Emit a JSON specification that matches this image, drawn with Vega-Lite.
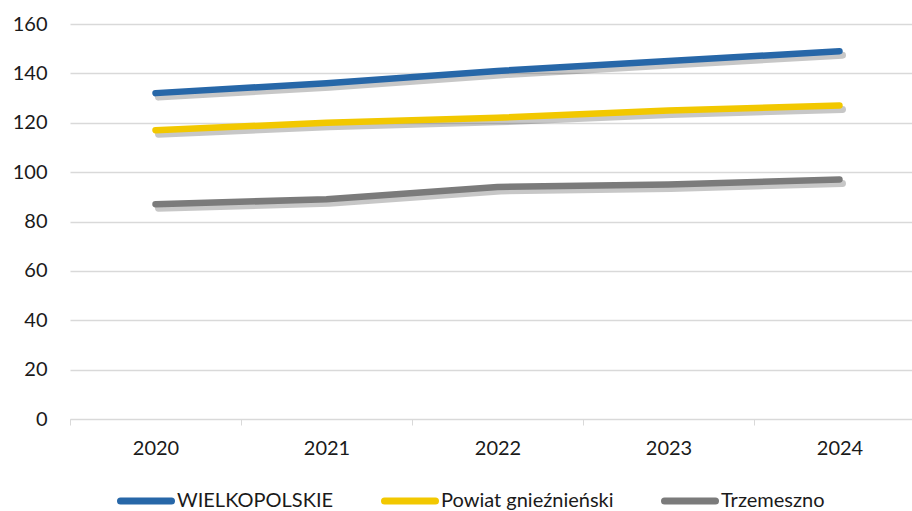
{
  "$schema": "https://vega.github.io/schema/vega-lite/v6.json",
  "width": 842,
  "height": 395,
  "autosize": "none",
  "padding": {"left": 70, "top": 24, "right": 0, "bottom": 92},
  "background": "white",
  "config": {
    "view": {"stroke": null},
    "font": "Lato",
    "axis": {"labelFont": "Lato", "labelFontSize": 20, "labelColor": "#1a1a1a"},
    "legend": {"labelFont": "Lato", "labelFontSize": 20, "labelColor": "#1a1a1a"}
  },
  "data": {
    "values": [
      {"year": "2020", "series": "WIELKOPOLSKIE", "value": 132},
      {"year": "2021", "series": "WIELKOPOLSKIE", "value": 136},
      {"year": "2022", "series": "WIELKOPOLSKIE", "value": 141},
      {"year": "2023", "series": "WIELKOPOLSKIE", "value": 145},
      {"year": "2024", "series": "WIELKOPOLSKIE", "value": 149},
      {"year": "2020", "series": "Powiat gnieźnieński", "value": 117},
      {"year": "2021", "series": "Powiat gnieźnieński", "value": 120},
      {"year": "2022", "series": "Powiat gnieźnieński", "value": 122},
      {"year": "2023", "series": "Powiat gnieźnieński", "value": 125},
      {"year": "2024", "series": "Powiat gnieźnieński", "value": 127},
      {"year": "2020", "series": "Trzemeszno", "value": 87},
      {"year": "2021", "series": "Trzemeszno", "value": 89},
      {"year": "2022", "series": "Trzemeszno", "value": 94},
      {"year": "2023", "series": "Trzemeszno", "value": 95},
      {"year": "2024", "series": "Trzemeszno", "value": 97}
    ]
  },
  "encoding": {
    "x": {
      "field": "year",
      "type": "ordinal",
      "scale": {"type": "band", "paddingInner": 0, "paddingOuter": 0, "range": [0, 855]},
      "axis": {
        "title": null,
        "labelAngle": 0,
        "labelPadding": 13,
        "bandPosition": 0,
        "tickBand": "extent",
        "ticks": true,
        "tickSize": 6,
        "tickColor": "#d9d9d9",
        "domainColor": "#d9d9d9",
        "domainWidth": 1,
        "grid": false
      }
    },
    "y": {
      "field": "value",
      "type": "quantitative",
      "scale": {"domain": [0, 160], "nice": false},
      "axis": {
        "title": null,
        "values": [0, 20, 40, 60, 80, 100, 120, 140, 160],
        "domain": false,
        "ticks": false,
        "labelPadding": 23,
        "gridColor": "#d9d9d9",
        "gridWidth": 1.3
      }
    }
  },
  "layer": [
    {
      "mark": {"type": "line", "strokeWidth": 7, "strokeCap": "round", "strokeJoin": "round", "color": "#000000", "opacity": 0.22, "xOffset": 3, "yOffset": 4},
      "encoding": {"detail": {"field": "series"}}
    },
    {
      "mark": {"type": "line", "strokeWidth": 6.5, "strokeCap": "round", "strokeJoin": "round"},
      "encoding": {
        "color": {
          "field": "series",
          "type": "nominal",
          "sort": ["WIELKOPOLSKIE", "Powiat gnieźnieński", "Trzemeszno"],
          "scale": {"domain": ["WIELKOPOLSKIE", "Powiat gnieźnieński", "Trzemeszno"], "range": ["#2767A8", "#F2C800", "#7B7B7B"]},
          "legend": {
            "title": null,
            "orient": "none",
            "direction": "horizontal",
            "legendX": 47,
            "legendY": 448,
            "symbolType": "stroke",
            "symbolSize": 2600,
            "symbolStrokeWidth": 7,
            "labelOffset": 2,
            "labelLimit": 400,
            "columnPadding": 36,
            "encode": {"symbols": {"update": {"strokeCap": {"value": "round"}}}}
          }
        }
      }
    }
  ]
}
